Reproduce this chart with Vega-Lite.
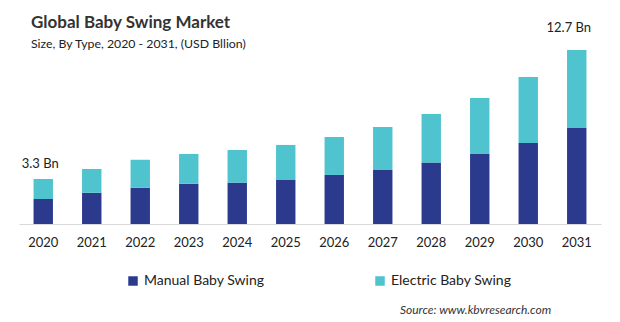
{
  "$schema": "https://vega.github.io/schema/vega-lite/v6.json",
  "width": 582,
  "height": 174,
  "autosize": "none",
  "padding": {"left": 19, "right": 19, "top": 50, "bottom": 98},
  "background": "white",
  "config": {
    "view": {"stroke": null},
    "font": "Lato"
  },
  "title": {
    "text": "Global Baby Swing Market",
    "subtitle": "Size, By Type, 2020 - 2031, (USD Bllion)",
    "anchor": "start",
    "frame": "group",
    "dx": 12,
    "offset": -29,
    "font": "Lato",
    "fontSize": 17,
    "fontWeight": "bold",
    "color": "#333333",
    "subtitleFont": "Lato",
    "subtitleFontSize": 12.3,
    "subtitleColor": "#222222",
    "subtitlePadding": 6
  },
  "data": {
    "values": [
      {"year": "2020", "type": "Manual Baby Swing", "value": 1.83},
      {"year": "2020", "type": "Electric Baby Swing", "value": 1.46},
      {"year": "2021", "type": "Manual Baby Swing", "value": 2.29},
      {"year": "2021", "type": "Electric Baby Swing", "value": 1.73},
      {"year": "2022", "type": "Manual Baby Swing", "value": 2.65},
      {"year": "2022", "type": "Electric Baby Swing", "value": 2.04},
      {"year": "2023", "type": "Manual Baby Swing", "value": 2.94},
      {"year": "2023", "type": "Electric Baby Swing", "value": 2.17},
      {"year": "2024", "type": "Manual Baby Swing", "value": 3.02},
      {"year": "2024", "type": "Electric Baby Swing", "value": 2.38},
      {"year": "2025", "type": "Manual Baby Swing", "value": 3.21},
      {"year": "2025", "type": "Electric Baby Swing", "value": 2.56},
      {"year": "2026", "type": "Manual Baby Swing", "value": 3.58},
      {"year": "2026", "type": "Electric Baby Swing", "value": 2.77},
      {"year": "2027", "type": "Manual Baby Swing", "value": 3.94},
      {"year": "2027", "type": "Electric Baby Swing", "value": 3.14},
      {"year": "2028", "type": "Manual Baby Swing", "value": 4.48},
      {"year": "2028", "type": "Electric Baby Swing", "value": 3.55},
      {"year": "2029", "type": "Manual Baby Swing", "value": 5.11},
      {"year": "2029", "type": "Electric Baby Swing", "value": 4.09},
      {"year": "2030", "type": "Manual Baby Swing", "value": 5.91},
      {"year": "2030", "type": "Electric Baby Swing", "value": 4.82},
      {"year": "2031", "type": "Manual Baby Swing", "value": 7.01},
      {"year": "2031", "type": "Electric Baby Swing", "value": 5.69}
    ]
  },
  "layer": [
    {
      "mark": {"type": "bar"},
      "encoding": {
        "x": {
          "field": "year",
          "type": "ordinal",
          "scale": {"paddingInner": 0.6, "paddingOuter": 0.3},
          "axis": {
            "title": "Source: www.kbvresearch.com",
            "titleFont": "Lato",
            "titleFontSize": 12,
            "titleFontStyle": "italic",
            "titleFontWeight": "normal",
            "titleColor": "#333333",
            "titleAlign": "center",
            "titleBaseline": "middle",
            "titleX": 456,
            "titleY": 85,
            "labelAngle": 0,
            "labelFont": "Lato",
            "labelFontSize": 13,
            "labelColor": "#222222",
            "labelPadding": 12,
            "ticks": false,
            "domainColor": "#d9d9d9",
            "domainWidth": 1,
            "grid": false
          }
        },
        "y": {
          "field": "value",
          "type": "quantitative",
          "aggregate": "sum",
          "stack": "zero",
          "scale": {"domain": [0, 12.7], "nice": false},
          "axis": null
        },
        "color": {
          "field": "type",
          "type": "nominal",
          "scale": {
            "domain": ["Manual Baby Swing", "Electric Baby Swing"],
            "range": ["#2c3a8e", "#4fc3ce"]
          },
          "legend": {
            "title": null,
            "orient": "none",
            "legendX": 107,
            "legendY": 224,
            "direction": "horizontal",
            "columns": 2,
            "columnPadding": 108,
            "symbolType": "square",
            "symbolSize": 90,
            "symbolStrokeWidth": 0,
            "labelFont": "Lato",
            "labelFontSize": 14,
            "labelColor": "#222222",
            "labelOffset": 4
          }
        },
        "order": {"field": "type", "sort": "descending"}
      }
    },
    {
      "data": {"values": [{"year": "2020", "total": 3.29, "label": "3.3 Bn"}]},
      "mark": {"type": "text", "dx": -3, "dy": -15, "fontSize": 13, "font": "Lato", "color": "#222222", "baseline": "middle"},
      "encoding": {
        "x": {"field": "year", "type": "ordinal"},
        "y": {"field": "total", "type": "quantitative"},
        "text": {"field": "label"}
      }
    },
    {
      "data": {"values": [{"year": "2031", "total": 12.7, "label": "12.7 Bn"}]},
      "mark": {"type": "text", "dx": -8, "dy": -22, "fontSize": 13, "font": "Lato", "color": "#222222", "baseline": "middle"},
      "encoding": {
        "x": {"field": "year", "type": "ordinal"},
        "y": {"field": "total", "type": "quantitative"},
        "text": {"field": "label"}
      }
    }
  ]
}
